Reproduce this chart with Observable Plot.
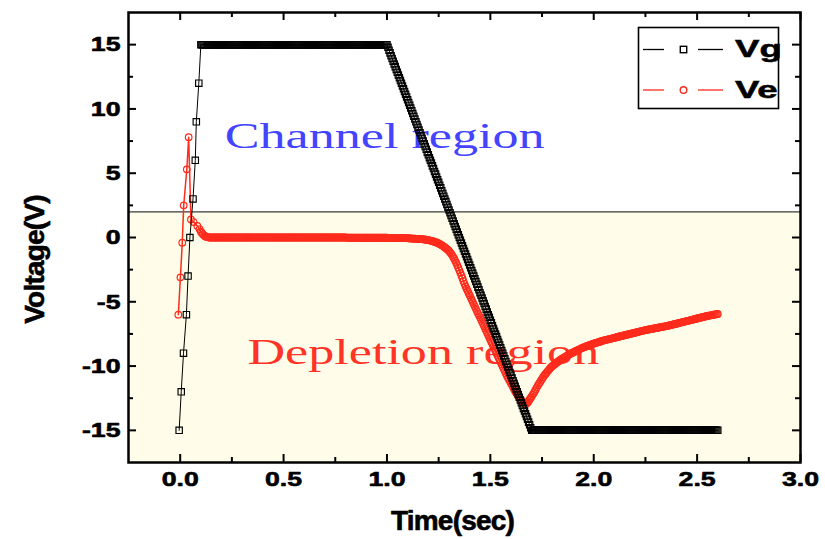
<!DOCTYPE html>
<html>
<head>
<meta charset="utf-8">
<script src="https://cdn.jsdelivr.net/npm/d3@7"></script>
<script src="https://cdn.jsdelivr.net/npm/@observablehq/plot@0.6"></script>
<style>
  html, body { margin: 0; padding: 0; background: #fff; }
  #chart { position: relative; width: 825px; height: 539px; }
  #chart > svg { position: absolute; left: 0; top: 0; }
</style>
</head>
<body>
<div id="chart"></div>
<script>
// ---- Gate voltage Vg: first samples of the turn-on ramp ----
const vgRiseTime = [-0.005, 0.005, 0.016, 0.030, 0.038, 0.047, 0.062, 0.073, 0.078, 0.090];
const vgRiseVolt = [-15, -12, -9, -6, -3, 0, 3, 6, 9, 12];

// ---- Ve: first samples (overshoot at turn-on) ----
const veRiseTime = [-0.009, 0.001, 0.010, 0.017, 0.032, 0.041, 0.052, 0.065, 0.083, 0.094];
const veRiseVolt = [-6.0, -3.1, -0.4, 2.5, 5.3, 7.8, 1.4, 1.2, 0.9, 0.65];

// ---- Common sample times (s), 5 ms apart, for the rest of the record ----
const sampleTime = [
  0.100,0.105,0.110,0.115,0.120,0.125,0.130,0.135,0.140,0.145,0.150,0.155,0.160,0.165,0.170,0.175,0.180,0.185,0.190,0.195,
  0.200,0.205,0.210,0.215,0.220,0.225,0.230,0.235,0.240,0.245,0.250,0.255,0.260,0.265,0.270,0.275,0.280,0.285,0.290,0.295,
  0.300,0.305,0.310,0.315,0.320,0.325,0.330,0.335,0.340,0.345,0.350,0.355,0.360,0.365,0.370,0.375,0.380,0.385,0.390,0.395,
  0.400,0.405,0.410,0.415,0.420,0.425,0.430,0.435,0.440,0.445,0.450,0.455,0.460,0.465,0.470,0.475,0.480,0.485,0.490,0.495,
  0.500,0.505,0.510,0.515,0.520,0.525,0.530,0.535,0.540,0.545,0.550,0.555,0.560,0.565,0.570,0.575,0.580,0.585,0.590,0.595,
  0.600,0.605,0.610,0.615,0.620,0.625,0.630,0.635,0.640,0.645,0.650,0.655,0.660,0.665,0.670,0.675,0.680,0.685,0.690,0.695,
  0.700,0.705,0.710,0.715,0.720,0.725,0.730,0.735,0.740,0.745,0.750,0.755,0.760,0.765,0.770,0.775,0.780,0.785,0.790,0.795,
  0.800,0.805,0.810,0.815,0.820,0.825,0.830,0.835,0.840,0.845,0.850,0.855,0.860,0.865,0.870,0.875,0.880,0.885,0.890,0.895,
  0.900,0.905,0.910,0.915,0.920,0.925,0.930,0.935,0.940,0.945,0.950,0.955,0.960,0.965,0.970,0.975,0.980,0.985,0.990,0.995,
  1.000,1.005,1.010,1.015,1.020,1.025,1.030,1.035,1.040,1.045,1.050,1.055,1.060,1.065,1.070,1.075,1.080,1.085,1.090,1.095,
  1.100,1.105,1.110,1.115,1.120,1.125,1.130,1.135,1.140,1.145,1.150,1.155,1.160,1.165,1.170,1.175,1.180,1.185,1.190,1.195,
  1.200,1.205,1.210,1.215,1.220,1.225,1.230,1.235,1.240,1.245,1.250,1.255,1.260,1.265,1.270,1.275,1.280,1.285,1.290,1.295,
  1.300,1.305,1.310,1.315,1.320,1.325,1.330,1.335,1.340,1.345,1.350,1.355,1.360,1.365,1.370,1.375,1.380,1.385,1.390,1.395,
  1.400,1.405,1.410,1.415,1.420,1.425,1.430,1.435,1.440,1.445,1.450,1.455,1.460,1.465,1.470,1.475,1.480,1.485,1.490,1.495,
  1.500,1.505,1.510,1.515,1.520,1.525,1.530,1.535,1.540,1.545,1.550,1.555,1.560,1.565,1.570,1.575,1.580,1.585,1.590,1.595,
  1.600,1.605,1.610,1.615,1.620,1.625,1.630,1.635,1.640,1.645,1.650,1.655,1.660,1.665,1.670,1.675,1.680,1.685,1.690,1.695,
  1.700,1.705,1.710,1.715,1.720,1.725,1.730,1.735,1.740,1.745,1.750,1.755,1.760,1.765,1.770,1.775,1.780,1.785,1.790,1.795,
  1.800,1.805,1.810,1.815,1.820,1.825,1.830,1.835,1.840,1.845,1.850,1.855,1.860,1.865,1.870,1.875,1.880,1.885,1.890,1.895,
  1.900,1.905,1.910,1.915,1.920,1.925,1.930,1.935,1.940,1.945,1.950,1.955,1.960,1.965,1.970,1.975,1.980,1.985,1.990,1.995,
  2.000,2.005,2.010,2.015,2.020,2.025,2.030,2.035,2.040,2.045,2.050,2.055,2.060,2.065,2.070,2.075,2.080,2.085,2.090,2.095,
  2.100,2.105,2.110,2.115,2.120,2.125,2.130,2.135,2.140,2.145,2.150,2.155,2.160,2.165,2.170,2.175,2.180,2.185,2.190,2.195,
  2.200,2.205,2.210,2.215,2.220,2.225,2.230,2.235,2.240,2.245,2.250,2.255,2.260,2.265,2.270,2.275,2.280,2.285,2.290,2.295,
  2.300,2.305,2.310,2.315,2.320,2.325,2.330,2.335,2.340,2.345,2.350,2.355,2.360,2.365,2.370,2.375,2.380,2.385,2.390,2.395,
  2.400,2.405,2.410,2.415,2.420,2.425,2.430,2.435,2.440,2.445,2.450,2.455,2.460,2.465,2.470,2.475,2.480,2.485,2.490,2.495,
  2.500,2.505,2.510,2.515,2.520,2.525,2.530,2.535,2.540,2.545,2.550,2.555,2.560,2.565,2.570,2.575,2.580,2.585,2.590,2.595,
  2.600
];

// Vg (V) at sampleTime
const vgVolt = [
  15,15,15,15,15,15,15,15,15,15,15,15,15,15,15,15,15,15,15,15,
  15,15,15,15,15,15,15,15,15,15,15,15,15,15,15,15,15,15,15,15,
  15,15,15,15,15,15,15,15,15,15,15,15,15,15,15,15,15,15,15,15,
  15,15,15,15,15,15,15,15,15,15,15,15,15,15,15,15,15,15,15,15,
  15,15,15,15,15,15,15,15,15,15,15,15,15,15,15,15,15,15,15,15,
  15,15,15,15,15,15,15,15,15,15,15,15,15,15,15,15,15,15,15,15,
  15,15,15,15,15,15,15,15,15,15,15,15,15,15,15,15,15,15,15,15,
  15,15,15,15,15,15,15,15,15,15,15,15,15,15,15,15,15,15,15,15,
  15,15,15,15,15,15,15,15,15,15,15,15,15,15,15,15,15,15,15,15,
  15,14.79,14.57,14.36,14.14,13.93,13.71,13.50,13.29,13.07,12.86,12.64,12.43,12.21,12.00,11.79,11.57,11.36,11.14,10.93,
  10.71,10.50,10.29,10.07,9.86,9.64,9.43,9.21,9.00,8.79,8.57,8.36,8.14,7.93,7.71,7.50,7.29,7.07,6.86,6.64,
  6.43,6.21,6.00,5.79,5.57,5.36,5.14,4.93,4.71,4.50,4.29,4.07,3.86,3.64,3.43,3.21,3.00,2.79,2.57,2.36,
  2.14,1.93,1.71,1.50,1.29,1.07,0.86,0.64,0.43,0.21,0.00,-0.21,-0.43,-0.64,-0.86,-1.07,-1.29,-1.50,-1.71,-1.93,
  -2.14,-2.36,-2.57,-2.79,-3.00,-3.21,-3.43,-3.64,-3.86,-4.07,-4.29,-4.50,-4.71,-4.93,-5.14,-5.36,-5.57,-5.79,-6.00,-6.21,
  -6.43,-6.64,-6.86,-7.07,-7.29,-7.50,-7.71,-7.93,-8.14,-8.36,-8.57,-8.79,-9.00,-9.21,-9.43,-9.64,-9.86,-10.07,-10.29,-10.50,
  -10.71,-10.93,-11.14,-11.36,-11.57,-11.79,-12.00,-12.21,-12.43,-12.64,-12.86,-13.07,-13.29,-13.50,-13.71,-13.93,-14.14,-14.36,-14.57,-14.79,
  -15,-15,-15,-15,-15,-15,-15,-15,-15,-15,-15,-15,-15,-15,-15,-15,-15,-15,-15,-15,
  -15,-15,-15,-15,-15,-15,-15,-15,-15,-15,-15,-15,-15,-15,-15,-15,-15,-15,-15,-15,
  -15,-15,-15,-15,-15,-15,-15,-15,-15,-15,-15,-15,-15,-15,-15,-15,-15,-15,-15,-15,
  -15,-15,-15,-15,-15,-15,-15,-15,-15,-15,-15,-15,-15,-15,-15,-15,-15,-15,-15,-15,
  -15,-15,-15,-15,-15,-15,-15,-15,-15,-15,-15,-15,-15,-15,-15,-15,-15,-15,-15,-15,
  -15,-15,-15,-15,-15,-15,-15,-15,-15,-15,-15,-15,-15,-15,-15,-15,-15,-15,-15,-15,
  -15,-15,-15,-15,-15,-15,-15,-15,-15,-15,-15,-15,-15,-15,-15,-15,-15,-15,-15,-15,
  -15,-15,-15,-15,-15,-15,-15,-15,-15,-15,-15,-15,-15,-15,-15,-15,-15,-15,-15,-15,
  -15,-15,-15,-15,-15,-15,-15,-15,-15,-15,-15,-15,-15,-15,-15,-15,-15,-15,-15,-15,
  -15
];

// Ve (V) at sampleTime
const veVolt = [
  0.45,0.35,0.25,0.17,0.10,0.06,0.03,0.01,0,0,0,0,0,0,0,0,0,0,0,0,
  0,0,0,0,0,0,0,0,0,0,0,0,0,0,0,0,0,0,0,0,
  0,0,0,0,0,0,0,0,0,0,0,0,0,0,0,0,0,0,0,0,
  0,0,0,0,0,0,0,0,0,0,0,0,0,0,0,0,0,0,0,0,
  0,0,0,0,0,0,0,0,0,0,0,0,0,0,0,0,0,0,0,0,
  0,0,0,0,0,0,0,0,0,0,0,0,0,0,0,0,0,0,0,0,
  0,0,0,0,0,0,0,0,0,0,0,0,0,0,0,0,0,0,0,0,
  0,-0.01,-0.02,-0.02,-0.02,-0.02,-0.02,-0.02,-0.02,-0.02,-0.02,-0.02,-0.02,-0.02,-0.02,-0.02,-0.02,-0.02,-0.02,-0.02,
  -0.02,-0.02,-0.02,-0.02,-0.02,-0.02,-0.02,-0.02,-0.02,-0.02,-0.02,-0.02,-0.02,-0.02,-0.02,-0.02,-0.02,-0.02,-0.02,-0.02,
  -0.02,-0.03,-0.04,-0.05,-0.05,-0.05,-0.05,-0.05,-0.05,-0.05,-0.05,-0.05,-0.05,-0.05,-0.05,-0.05,-0.05,-0.05,-0.05,-0.05,
  -0.05,-0.06,-0.07,-0.075,-0.08,-0.085,-0.09,-0.095,-0.10,-0.105,-0.11,-0.115,-0.12,-0.125,-0.13,-0.14,-0.15,-0.16,-0.17,-0.185,
  -0.20,-0.22,-0.24,-0.26,-0.28,-0.305,-0.33,-0.36,-0.39,-0.425,-0.46,-0.50,-0.55,-0.60,-0.65,-0.71,-0.77,-0.83,-0.90,-0.97,
  -1.05,-1.15,-1.25,-1.37,-1.50,-1.65,-1.80,-1.97,-2.15,-2.35,-2.55,-2.75,-2.95,-3.17,-3.40,-3.60,-3.80,-3.98,-4.15,-4.33,
  -4.50,-4.67,-4.85,-5.02,-5.20,-5.37,-5.55,-5.72,-5.90,-6.05,-6.20,-6.37,-6.55,-6.72,-6.90,-7.07,-7.25,-7.42,-7.60,-7.77,
  -7.95,-8.12,-8.30,-8.47,-8.65,-8.82,-9.00,-9.17,-9.35,-9.52,-9.70,-9.87,-10.05,-10.22,-10.40,-10.57,-10.75,-10.90,-11.05,-11.20,
  -11.35,-11.50,-11.65,-11.80,-11.95,-12.08,-12.20,-12.33,-12.45,-12.55,-12.65,-12.75,-12.85,-12.91,-12.95,-12.92,-12.85,-12.73,-12.60,-12.48,
  -12.35,-12.22,-12.10,-11.95,-11.80,-11.65,-11.50,-11.37,-11.25,-11.12,-11.00,-10.87,-10.75,-10.65,-10.55,-10.45,-10.35,-10.25,-10.15,-10.07,
  -10.00,-9.93,-9.87,-9.80,-9.74,-9.68,-9.62,-9.56,-9.51,-9.45,-9.40,-9.35,-9.30,-9.25,-9.20,-9.15,-9.10,-9.06,-9.02,-8.98,
  -8.94,-8.90,-8.86,-8.82,-8.78,-8.74,-8.70,-8.66,-8.62,-8.58,-8.55,-8.52,-8.49,-8.46,-8.43,-8.40,-8.37,-8.34,-8.31,-8.28,
  -8.25,-8.22,-8.20,-8.17,-8.15,-8.12,-8.10,-8.07,-8.05,-8.02,-8.00,-7.98,-7.96,-7.94,-7.92,-7.90,-7.88,-7.86,-7.84,-7.82,
  -7.80,-7.78,-7.76,-7.74,-7.72,-7.70,-7.68,-7.66,-7.64,-7.62,-7.60,-7.58,-7.56,-7.54,-7.52,-7.50,-7.48,-7.46,-7.44,-7.42,
  -7.40,-7.38,-7.36,-7.34,-7.32,-7.30,-7.28,-7.26,-7.24,-7.22,-7.20,-7.18,-7.17,-7.15,-7.14,-7.12,-7.11,-7.09,-7.08,-7.06,
  -7.05,-7.03,-7.02,-7.00,-6.99,-6.97,-6.96,-6.94,-6.93,-6.91,-6.90,-6.88,-6.86,-6.84,-6.82,-6.80,-6.78,-6.76,-6.74,-6.72,
  -6.70,-6.68,-6.66,-6.64,-6.62,-6.60,-6.58,-6.56,-6.54,-6.52,-6.50,-6.48,-6.46,-6.44,-6.42,-6.40,-6.38,-6.36,-6.34,-6.32,
  -6.30,-6.28,-6.26,-6.24,-6.22,-6.20,-6.18,-6.16,-6.14,-6.12,-6.10,-6.08,-6.07,-6.05,-6.04,-6.02,-6.01,-5.99,-5.98,-5.96,
  -5.95
];

// Boundary between channel (above) and depletion (below) regions, in V
const thresholdVolt = 2;

// Axis ticks
const xTickValues = [0, 0.5, 1.0, 1.5, 2.0, 2.5, 3.0];
const xTickLabels = ["0.0", "0.5", "1.0", "1.5", "2.0", "2.5", "3.0"];
const xMinorValues = [0.25, 0.75, 1.25, 1.75, 2.25, 2.75];
const yTickValues = [-15, -10, -5, 0, 5, 10, 15];
const yTickLabels = ["-15", "-10", "-5", "0", "5", "10", "15"];
const yMinorValues = [-12.5, -7.5, -2.5, 2.5, 7.5, 12.5];

// ---- layout ----
const W = 825, H = 539;
const M = {top: 12, right: 25, bottom: 77, left: 128};
const xDomain = [-0.25, 3.0];
const yDomain = [-17.5, 17.5];
const tPerPx = (xDomain[1] - xDomain[0]) / (W - M.left - M.right);
const vPerPx = (yDomain[1] - yDomain[0]) / (H - M.top - M.bottom);
const MAJOR = 8, MINOR = 5;

const RED = "#ff2b1c";
const SANS = "'Liberation Sans', Arial, sans-serif";
const SERIF = "'Liberation Serif', 'Times New Roman', serif";

const vgSeries = [
  ...vgRiseTime.map((t, i) => ({t, v: vgRiseVolt[i]})),
  ...sampleTime.map((t, i) => ({t, v: vgVolt[i]}))
];
const veSeries = [
  ...veRiseTime.map((t, i) => ({t, v: veRiseVolt[i]})),
  ...sampleTime.map((t, i) => ({t, v: veVolt[i]}))
];

const tickStyle = {stroke: "black", strokeWidth: 2};
// heavy black lettering for ticks and axis titles
const heavyText = {fill: "black", stroke: "black", strokeWidth: 0.6, fontWeight: "bold"};

const chart = Plot.plot({
  width: W,
  height: H,
  marginTop: M.top, marginRight: M.right, marginBottom: M.bottom, marginLeft: M.left,
  x: {domain: xDomain, axis: null},
  y: {domain: yDomain, axis: null},
  style: {background: "transparent", fontFamily: SANS, overflow: "visible"},
  marks: [
    // depletion-region shading below the threshold
    Plot.rect([thresholdVolt], {
      x1: () => xDomain[0], x2: () => xDomain[1],
      y1: () => yDomain[0], y2: d => d,
      fill: "#fffde9"
    }),
    Plot.ruleY([thresholdVolt], {stroke: "#3a3a3a", strokeWidth: 1.2}),

    // region captions
    Plot.text(["Channel region"], {
      x: () => 0.215, y: () => 7.0, textAnchor: "start", lineAnchor: "bottom",
      fill: "#4444ff", fontFamily: SERIF, fontSize: 35
    }),
    Plot.text(["Depletion region"], {
      x: () => 0.325, y: () => -9.85, textAnchor: "start", lineAnchor: "bottom",
      fill: "#ff3326", fontFamily: SERIF, fontSize: 35
    }),

    // Ve
    Plot.line(veSeries, {x: "t", y: "v", stroke: RED, strokeWidth: 1.5}),
    Plot.dot(veSeries, {x: "t", y: "v", r: 3.3, stroke: RED, strokeWidth: 1.2, fill: "none"}),

    // Vg
    Plot.line(vgSeries, {x: "t", y: "v", stroke: "black", strokeWidth: 1}),
    Plot.dot(vgSeries, {x: "t", y: "v", symbol: "square", r: 3.6, stroke: "black", strokeWidth: 1.15, fill: "none"}),

    // frame and inward ticks on all four sides
    Plot.frame({stroke: "black", strokeWidth: 2.5}),
    Plot.ruleX(xTickValues, {x: d => d, y1: () => yDomain[0], y2: () => yDomain[0] + MAJOR * vPerPx, ...tickStyle}),
    Plot.ruleX(xMinorValues, {x: d => d, y1: () => yDomain[0], y2: () => yDomain[0] + MINOR * vPerPx, ...tickStyle}),
    Plot.ruleX(xTickValues, {x: d => d, y1: () => yDomain[1], y2: () => yDomain[1] - MAJOR * vPerPx, ...tickStyle}),
    Plot.ruleX(xMinorValues, {x: d => d, y1: () => yDomain[1], y2: () => yDomain[1] - MINOR * vPerPx, ...tickStyle}),
    Plot.ruleY(yTickValues, {y: d => d, x1: () => xDomain[0], x2: () => xDomain[0] + MAJOR * tPerPx, ...tickStyle}),
    Plot.ruleY(yMinorValues, {y: d => d, x1: () => xDomain[0], x2: () => xDomain[0] + MINOR * tPerPx, ...tickStyle}),
    Plot.ruleY(yTickValues, {y: d => d, x1: () => xDomain[1], x2: () => xDomain[1] - MAJOR * tPerPx, ...tickStyle}),
    Plot.ruleY(yMinorValues, {y: d => d, x1: () => xDomain[1], x2: () => xDomain[1] - MINOR * tPerPx, ...tickStyle}),

    // tick labels
    Plot.text(xTickValues, {
      x: d => d, text: (d, i) => xTickLabels[i], frameAnchor: "bottom", dy: 17,
      textAnchor: "middle", lineAnchor: "middle", fontSize: 21, ...heavyText
    }),
    Plot.text(yTickValues, {
      y: d => d, text: (d, i) => yTickLabels[i], frameAnchor: "left", dx: -8,
      textAnchor: "end", lineAnchor: "middle", fontSize: 21, ...heavyText
    }),

    // axis titles
    Plot.text(["Time(sec)"], {
      frameAnchor: "bottom", dy: 59, dx: -12, textAnchor: "middle", lineAnchor: "middle",
      fontSize: 28, ...heavyText
    }),
    Plot.text(["Voltage(V)"], {
      frameAnchor: "left", rotate: -90, dx: -93, dy: 22, textAnchor: "middle", lineAnchor: "middle",
      fontSize: 28, ...heavyText
    })
  ]
});

// widen selected text horizontally about its anchor point
function widen(el, sx) {
  let tr = el.getAttribute("transform") || "";
  const x = el.getAttribute("x");
  if (x !== null && !/em$/.test(x)) { tr += ` translate(${x},0)`; el.removeAttribute("x"); }
  el.setAttribute("transform", `${tr} scale(${sx},1)`);
}
const tickLabelSet = new Set([...xTickLabels, ...yTickLabels]);
chart.querySelectorAll("text").forEach(el => {
  const s = el.textContent;
  if (tickLabelSet.has(s)) widen(el, 1.27);
  else if (s === "Channel region" || s === "Depletion region") widen(el, 1.49);
  else if (s === "Time(sec)" || s === "Voltage(V)") el.style.letterSpacing = "-0.8px";
});

const host = document.getElementById("chart");
host.appendChild(chart);

// legend box (top right)
const legend = d3.create("svg")
  .attr("width", W).attr("height", H)
  .style("pointer-events", "none");
legend.append("rect")
  .attr("x", 638.5).attr("y", 27.5).attr("width", 140).attr("height", 81)
  .attr("fill", "white").attr("stroke", "black").attr("stroke-width", 1.6);
const rows = [
  {name: "Vg", color: "black", symbol: "square", cy: 49.5, base: 57},
  {name: "Ve", color: RED, symbol: "circle", cy: 90, base: 97.5}
];
for (const r of rows) {
  legend.append("line").attr("x1", 643).attr("x2", 664).attr("y1", r.cy).attr("y2", r.cy)
    .attr("stroke", r.color).attr("stroke-width", 1.3);
  legend.append("line").attr("x1", 698).attr("x2", 723).attr("y1", r.cy).attr("y2", r.cy)
    .attr("stroke", r.color).attr("stroke-width", 1.3);
  if (r.symbol === "square") {
    legend.append("rect").attr("x", 680.3).attr("y", r.cy - 3.2).attr("width", 6.4).attr("height", 6.4)
      .attr("fill", "white").attr("stroke", r.color).attr("stroke-width", 1.4);
  } else {
    legend.append("circle").attr("cx", 683.5).attr("cy", r.cy).attr("r", 3.3)
      .attr("fill", "white").attr("stroke", r.color).attr("stroke-width", 1.4);
  }
  legend.append("text")
    .attr("transform", `translate(735,${r.base}) scale(1.59,1)`)
    .attr("font-family", SANS).attr("font-weight", "bold").attr("font-size", 23)
    .attr("fill", "black").attr("stroke", "black").attr("stroke-width", 0.5)
    .text(r.name);
}
host.appendChild(legend.node());
</script>
</body>
</html>
